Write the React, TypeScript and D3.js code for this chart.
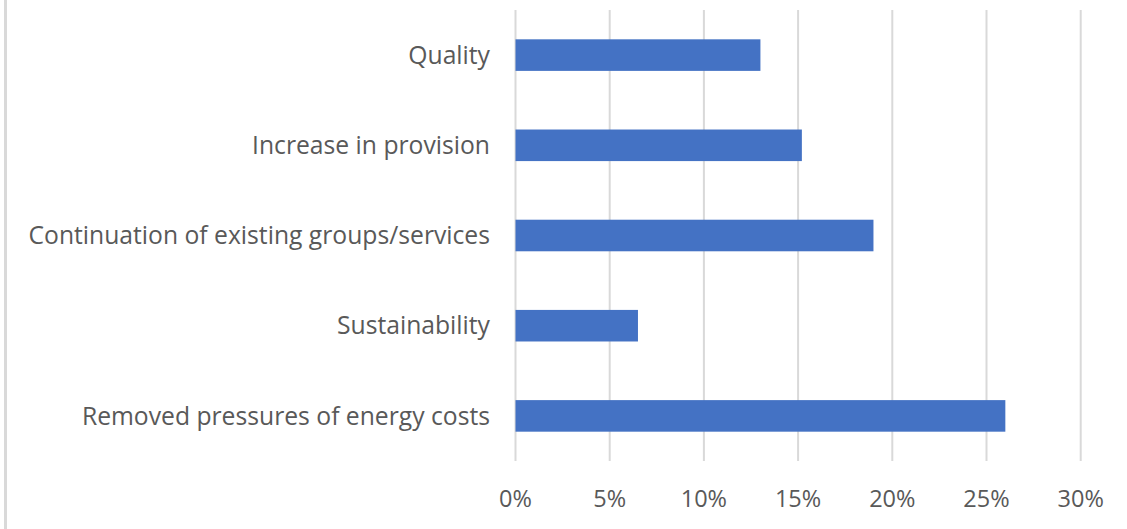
import React from "react";
import * as d3 from "d3";

const categories = [
  "Quality",
  "Increase in provision",
  "Continuation of existing groups/services",
  "Sustainability",
  "Removed pressures of energy costs",
];
const values = [0.13, 0.152, 0.19, 0.065, 0.26];
const tickValues = [0, 0.05, 0.1, 0.15, 0.2, 0.25, 0.3];

const W = 1127;
const H = 529;
const margin = { left: 515.5, right: 46.3, top: 10, bottom: 68 };
const FONT = "'Open Sans', sans-serif";

export default function App() {
  const x = d3
    .scaleLinear()
    .domain([0, 0.3])
    .range([margin.left, W - margin.right]);
  const y = d3
    .scaleBand<string>()
    .domain(categories)
    .range([margin.top, H - margin.bottom])
    .paddingInner(0.65)
    .paddingOuter(0.325);
  const fmt = d3.format(".0%");

  return (
    <svg
      width={W}
      height={H}
      style={{ position: "absolute", left: 0, top: 0, background: "#fff" }}
    >
      <line x1={5.5} x2={5.5} y1={0} y2={H} stroke="#d9d9d9" strokeWidth={3} />
      {tickValues.map((t) => (
        <g key={t}>
          <line
            x1={x(t)}
            x2={x(t)}
            y1={margin.top}
            y2={H - margin.bottom}
            stroke="#d9d9d9"
            strokeWidth={2}
          />
          <text
            x={x(t)}
            y={507}
            textAnchor="middle"
            fontFamily={FONT}
            fontSize={23.5}
            fill="#595959"
          >
            {fmt(t)}
          </text>
        </g>
      ))}
      {categories.map((c, i) => (
        <g key={c}>
          <rect
            x={x(0)}
            y={y(c)}
            width={x(values[i]) - x(0)}
            height={y.bandwidth()}
            fill="#4472C4"
          />
          <text
            x={490}
            y={(y(c) as number) + y.bandwidth() / 2}
            dy="0.35em"
            textAnchor="end"
            fontFamily={FONT}
            fontSize={24.7}
            fill="#595959"
          >
            {c}
          </text>
        </g>
      ))}
    </svg>
  );
}
